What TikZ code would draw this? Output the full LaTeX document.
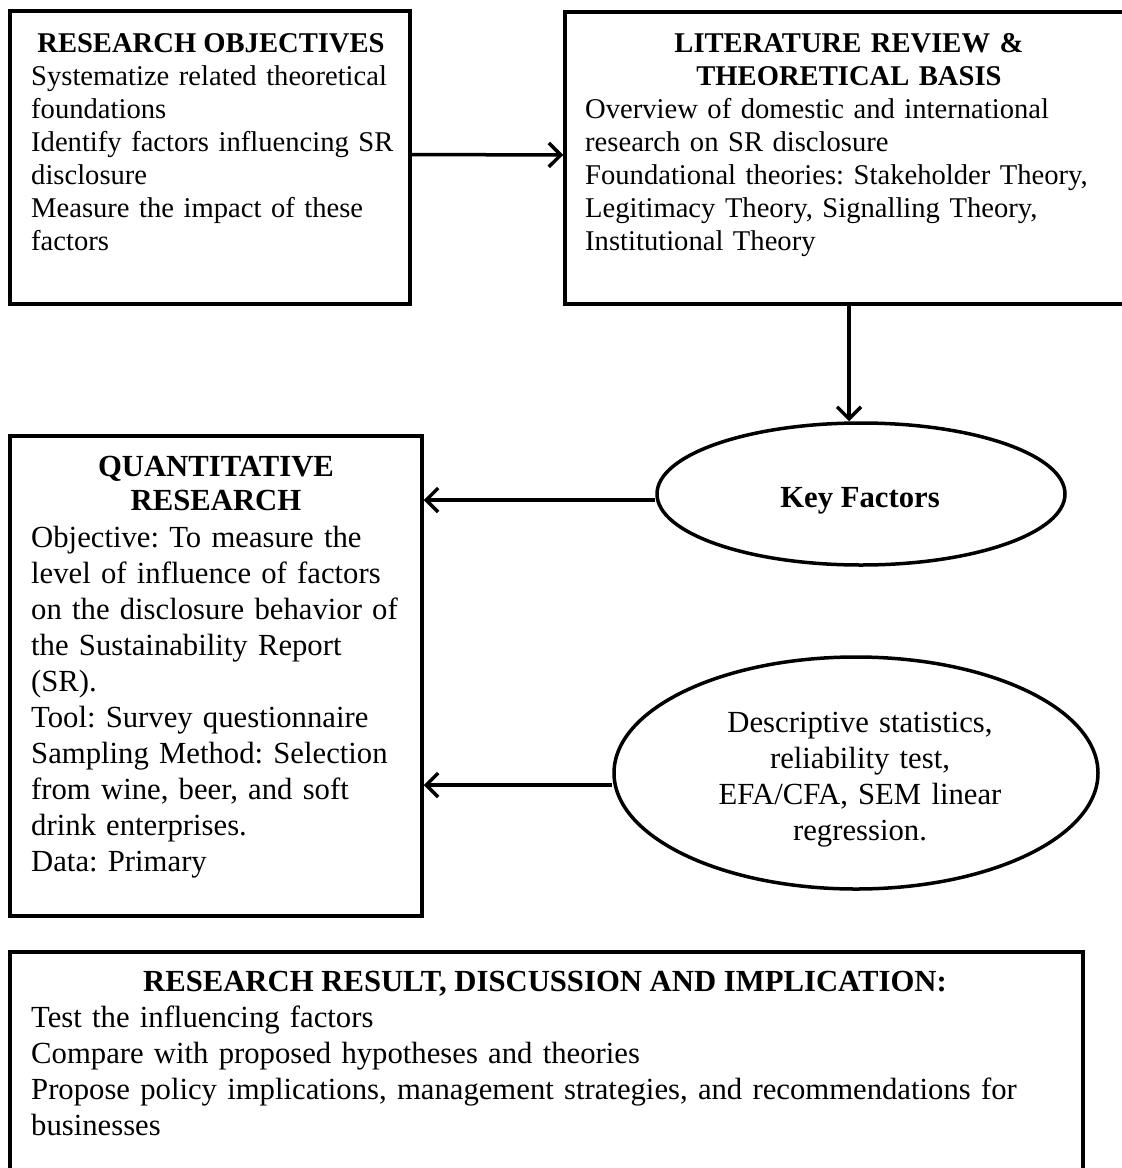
\documentclass[tikz,border=0pt]{standalone}
\usepackage{fontspec}
\setmainfont{Liberation Serif}
\usetikzlibrary{arrows.meta,shapes.geometric}
\frenchspacing
\begin{document}
\begin{tikzpicture}[x=1pt,y=-1pt,
  frame/.style={draw, line width=3.5pt, rectangle, inner sep=0pt},
  oval/.style={draw, line width=3.5pt, ellipse, inner sep=0pt},
  link/.style={line width=3.5pt, -{Straight Barb[length=12pt,width=24pt,line width=3.5pt]}},
  headA/.style={inner sep=0pt, font=\fontsize{28.6}{33}\selectfont\bfseries},
  bodyA/.style={inner sep=0pt, font=\fontsize{28.6}{33}\selectfont},
  headB/.style={inner sep=0pt, font=\fontsize{30.7}{34}\selectfont\bfseries},
  bodyB/.style={inner sep=0pt, font=\fontsize{30.7}{36}\selectfont},
]
\useasboundingbox (0,0) rectangle (1122,1168);

% boxes and ovals
\node[frame, minimum width=400pt, minimum height=293pt] (obj) at (210,157.5) {};
\node[frame, minimum width=561pt, minimum height=292pt] (lit) at (845.5,158) {};
\node[frame, minimum width=412pt, minimum height=480pt] (quant) at (216,676) {};
\node[frame, minimum width=1073pt, minimum height=220pt] (res) at (546.5,1062) {};
\node[oval, minimum width=408pt, minimum height=142pt] (key) at (861,494) {};
\node[oval, minimum width=484pt, minimum height=232pt] (stats) at (856,773) {};

% research objectives
\node[headA, anchor=base] (objhead) at (211,52) {RESEARCH OBJECTIVES};
\node[bodyA, anchor=base west, text width=385pt, align=left] (objbody) at (31,85)
  {Systematize related theoretical\\ foundations\\ Identify factors influencing SR\\ disclosure\\ Measure the impact of these\\ factors};

% literature review
\node[headA, anchor=base, text width=540pt, align=center] (lithead) at (849,52)
  {LITERATURE REVIEW \&\\ THEORETICAL BASIS};
\node[bodyA, anchor=base west, text width=530pt, align=left] (litbody) at (585,118)
  {Overview of domestic and international\\ research on SR disclosure\\ Foundational theories: Stakeholder Theory,\\ Legitimacy Theory, Signalling Theory,\\ Institutional Theory};

% quantitative research
\node[headB, anchor=base, text width=400pt, align=center] (quanthead) at (216,476)
  {QUANTITATIVE\\ RESEARCH};
\node[bodyB, anchor=base west, text width=390pt, align=left] (quantbody) at (31,547)
  {Objective: To measure the\\ level of influence of factors\\ on the disclosure behavior of\\ the Sustainability Report\\ (SR).\\ Tool: Survey questionnaire\\ Sampling Method: Selection\\ from wine, beer, and soft\\ drink enterprises.\\ Data: Primary};

% ovals' text
\node[headB, anchor=base] (keytxt) at (860,507) {Key Factors};
\node[bodyB, anchor=base, text width=420pt, align=center] (statstxt) at (860,732)
  {Descriptive statistics,\\ reliability test,\\ EFA/CFA, SEM linear\\ regression.};

% results
\node[headB, anchor=base] (reshead) at (545,991) {RESEARCH RESULT, DISCUSSION AND IMPLICATION:};
\node[bodyB, anchor=base west, text width=1040pt, align=left] (resbody) at (31,1027)
  {Test the influencing factors\\ Compare with proposed hypotheses and theories\\ Propose policy implications, management strategies, and recommendations for\\ businesses};

% connectors
\coordinate (drop) at ([xshift=-12pt]key.north);
\coordinate (kf) at ([yshift=-6pt]key.west);
\coordinate (sf) at ([yshift=-12pt]stats.west);
\draw[link] ([yshift=3pt]obj.east) -- ([yshift=3pt]lit.west);
\draw[link] (lit.south -| drop) -- (drop);
\draw[link] (kf) -- (kf -| quant.east);
\draw[link] (sf) -- (sf -| quant.east);
\end{tikzpicture}
\end{document}
